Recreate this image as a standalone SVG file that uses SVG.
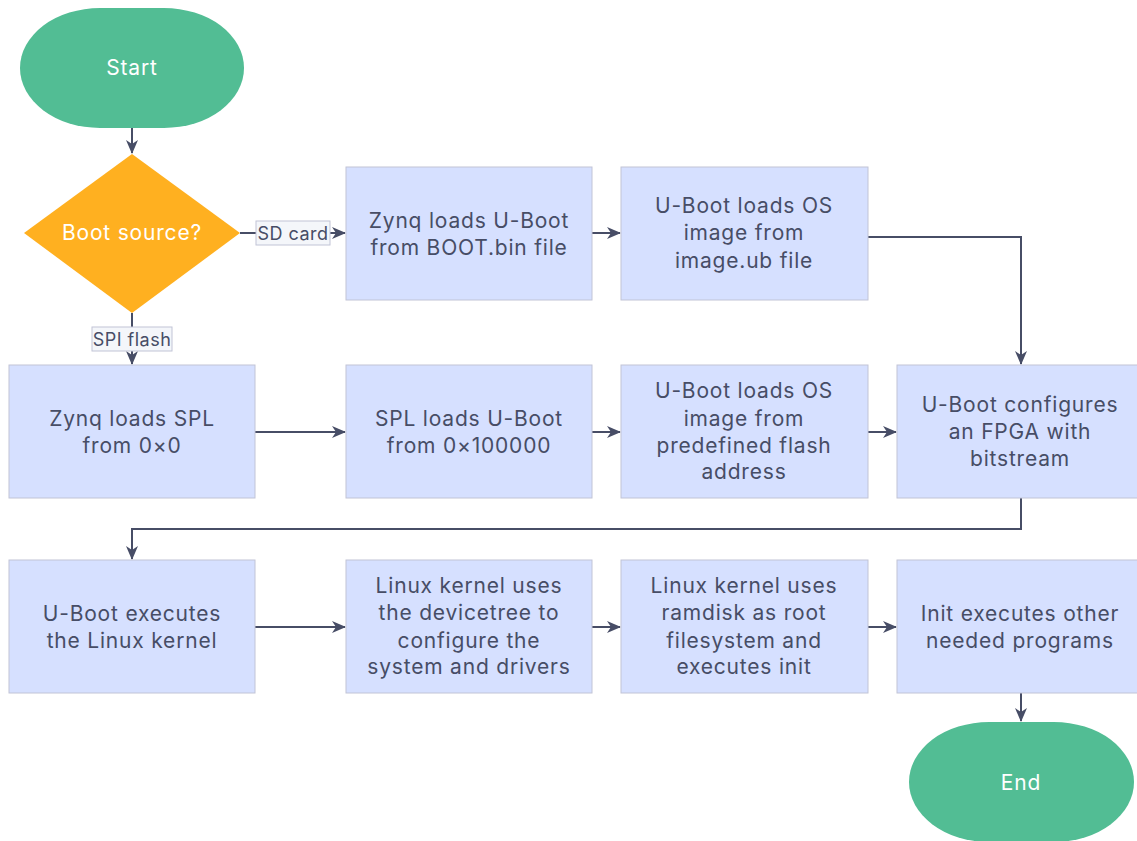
<svg xmlns="http://www.w3.org/2000/svg" width="1137" height="841" viewBox="0 0 1137 841">
<style>
text{font-family:Inter,"Noto Sans","Liberation Sans",sans-serif;font-size:21px;letter-spacing:0.8px;fill:#474d66;text-anchor:middle}
.w{fill:#ffffff}
.box{fill:#d6e0ff;stroke:#c1c4d6;stroke-width:1}
.term{fill:#52bd94}
.edge{fill:none;stroke:#474d66;stroke-width:2}
.lbl{fill:#f4f6fa;stroke:#c1c4d6;stroke-width:1}
.lt{font-size:18px;letter-spacing:0.5px}
</style>
<defs>
<marker id="arr" viewBox="0 0 14 14" refX="13" refY="7" markerWidth="14" markerHeight="14" markerUnits="userSpaceOnUse" orient="auto">
<path d="M0,1 L14,7 L0,13 L4,7 z" fill="#474d66"/>
</marker>
</defs>
<g id="connectors">
<path class="edge" d="M132,128 V153" marker-end="url(#arr)"/>
<path class="edge" d="M240,233 H345" marker-end="url(#arr)"/>
<path class="edge" d="M132,313 V364" marker-end="url(#arr)"/>
<path class="edge" d="M592,233 H620" marker-end="url(#arr)"/>
<path class="edge" d="M868,237 H1021 V364" marker-end="url(#arr)"/>
<path class="edge" d="M255,432 H345" marker-end="url(#arr)"/>
<path class="edge" d="M592,432 H620" marker-end="url(#arr)"/>
<path class="edge" d="M868,432 H896" marker-end="url(#arr)"/>
<path class="edge" d="M1021,498 V529 H132 V559" marker-end="url(#arr)"/>
<path class="edge" d="M255,627 H345" marker-end="url(#arr)"/>
<path class="edge" d="M592,627 H620" marker-end="url(#arr)"/>
<path class="edge" d="M868,627 H896" marker-end="url(#arr)"/>
<path class="edge" d="M1021,693 V721" marker-end="url(#arr)"/>
<rect class="lbl" x="256" y="221" width="74" height="24"/>
<text class="lt" x="293" y="239.5">SD card</text>
<rect class="lbl" x="92" y="327" width="80" height="24"/>
<text class="lt" x="132" y="345.5">SPI flash</text>
</g>
<g id="start">
<rect class="term" x="20" y="8" width="224" height="120" rx="80" ry="60"/>
<text class="w" x="132" y="75">Start</text>
</g>
<g id="decision">
<polygon points="132,154 240,233 132,313 24,233" fill="#ffb020"/>
<text class="w" x="132" y="240">Boot source?</text>
</g>
<g id="sd1">
<rect class="box" x="346" y="167" width="246" height="133"/>
<text x="469" y="228">Zynq loads U-Boot</text>
<text x="469" y="255">from BOOT.bin file</text>
</g>
<g id="sd2">
<rect class="box" x="621" y="167" width="247" height="133"/>
<text x="744" y="213">U-Boot loads OS</text>
<text x="744" y="240">image from</text>
<text x="744" y="268">image.ub file</text>
</g>
<g id="spi1">
<rect class="box" x="9" y="365" width="246" height="133"/>
<text x="132" y="426">Zynq loads SPL</text>
<text x="132" y="453">from 0×0</text>
</g>
<g id="spi2">
<rect class="box" x="346" y="365" width="246" height="133"/>
<text x="469" y="426">SPL loads U-Boot</text>
<text x="469" y="453">from 0×100000</text>
</g>
<g id="spi3">
<rect class="box" x="621" y="365" width="247" height="133"/>
<text x="744" y="398">U-Boot loads OS</text>
<text x="744" y="426">image from</text>
<text x="744" y="453">predefined flash</text>
<text x="744" y="479">address</text>
</g>
<g id="fpga">
<rect class="box" x="897" y="365" width="246" height="133"/>
<text x="1020" y="412">U-Boot configures</text>
<text x="1020" y="439">an FPGA with</text>
<text x="1020" y="466">bitstream</text>
</g>
<g id="kernel">
<rect class="box" x="9" y="560" width="246" height="133"/>
<text x="132" y="621">U-Boot executes</text>
<text x="132" y="648">the Linux kernel</text>
</g>
<g id="devicetree">
<rect class="box" x="346" y="560" width="246" height="133"/>
<text x="469" y="593">Linux kernel uses</text>
<text x="469" y="620">the devicetree to</text>
<text x="469" y="648">configure the</text>
<text x="469" y="674">system and drivers</text>
</g>
<g id="ramdisk">
<rect class="box" x="621" y="560" width="247" height="133"/>
<text x="744" y="593">Linux kernel uses</text>
<text x="744" y="620">ramdisk as root</text>
<text x="744" y="648">filesystem and</text>
<text x="744" y="674">executes init</text>
</g>
<g id="init">
<rect class="box" x="897" y="560" width="246" height="133"/>
<text x="1020" y="621">Init executes other</text>
<text x="1020" y="648">needed programs</text>
</g>
<g id="end">
<rect class="term" x="909" y="722" width="225" height="120" rx="80" ry="60"/>
<text class="w" x="1021" y="790">End</text>
</g>
</svg>
